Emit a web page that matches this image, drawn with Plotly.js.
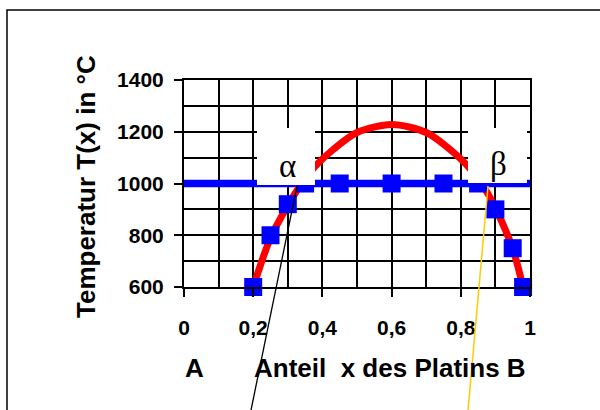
<!DOCTYPE html>
<html>
<head>
<meta charset="utf-8">
<script src="https://cdn.plot.ly/plotly-3.0.1.min.js"></script>
<style>html,body{margin:0;padding:0;background:#fff;}#chart{width:600px;height:410px;}</style>
</head>
<body>
<div id="chart"></div>
<script>
// Liquidus / solidus style curve (red)
const curveX = [0.2, 0.25, 0.3, 0.34, 0.38, 0.43, 0.5, 0.6, 0.7, 0.8, 0.86, 0.9, 0.95, 0.98];
const curveT = [600, 790, 915, 1000, 1068, 1130, 1197, 1228, 1197, 1095, 1000, 905, 748, 600];
// horizontal isotherm (blue line)
const lineX = [-0.01, 1.01];
const lineT = [1000, 1000];
// measured points (blue squares)
const pointX = [0.2, 0.25, 0.3, 0.35, 0.45, 0.6, 0.75, 0.85, 0.9, 0.95, 0.98];
const pointT = [600, 800, 920, 1000, 1000, 1000, 1000, 1000, 900, 750, 600];
// texts
const yTitle = 'Temperatur T(x) in °C';
const xLabelA = 'A';
const xTitle = 'Anteil\u00a0 x des Platins B';
const phaseA = 'α';
const phaseB = 'β';

const F = 'Liberation Sans, Arial, Helvetica, sans-serif';
const S = 'Liberation Serif, Times New Roman, serif';

const traces = [
  {x: lineX, y: lineT, mode: 'lines', line: {color: '#0000FF', width: 7.5}, cliponaxis: false, hoverinfo: 'skip'},
  {x: curveX, y: curveT, mode: 'lines', line: {color: '#FF0000', width: 7, shape: 'spline', smoothing: 0.8}, cliponaxis: false},
  {x: pointX, y: pointT, mode: 'markers', marker: {symbol: 'square', size: 18, color: '#0000FF'}, cliponaxis: false}
];

const px = v => (v - 184) / 346;
const py = v => (287 - v) / 207;

const layout = {
  width: 600, height: 410,
  margin: {l: 184, r: 70, t: 80, b: 123},
  paper_bgcolor: '#fff', plot_bgcolor: '#fff',
  showlegend: false,
  separators: ',.',
  xaxis: {
    range: [0, 1], dtick: 0.2, tick0: 0,
    showgrid: true, gridcolor: '#000', gridwidth: 2,
    minor: {dtick: 0.1, showgrid: true, gridcolor: '#000', gridwidth: 2},
    showline: true, linecolor: '#000', linewidth: 2, mirror: true,
    zeroline: false,
    ticks: 'outside', ticklen: 8, tickwidth: 2, tickcolor: '#000',
    ticklabelstandoff: 13,
    tickfont: {family: F, size: 21, color: '#000', weight: 'bold'}
  },
  yaxis: {
    range: [600, 1400], dtick: 200, tick0: 600,
    showgrid: true, gridcolor: '#000', gridwidth: 2,
    minor: {dtick: 100, showgrid: true, gridcolor: '#000', gridwidth: 2},
    showline: true, linecolor: '#000', linewidth: 2, mirror: true,
    zeroline: false,
    ticks: 'outside', ticklen: 8, tickwidth: 2, tickcolor: '#000',
    ticklabelstandoff: 6,
    tickfont: {family: F, size: 21, color: '#000', weight: 'bold'}
  },
  shapes: [
    {type: 'rect', xref: 'paper', yref: 'paper', x0: px(7), x1: px(620), y0: py(10), y1: py(430),
     line: {color: '#000', width: 1.5}, fillcolor: 'rgba(0,0,0,0)', layer: 'below'},
    {type: 'rect', xref: 'paper', yref: 'paper', x0: px(257), x1: px(315), y0: py(185), y1: py(128),
     line: {width: 0}, fillcolor: '#fff', layer: 'above'},
    {type: 'rect', xref: 'paper', yref: 'paper', x0: px(468), x1: px(527), y0: py(183), y1: py(128),
     line: {width: 0}, fillcolor: '#fff', layer: 'above'},
    {type: 'line', xref: 'paper', yref: 'paper', x0: px(297), y0: py(186), x1: px(250), y1: py(415),
     line: {color: '#000', width: 1.3}, layer: 'above'},
    {type: 'line', xref: 'paper', yref: 'paper', x0: px(488), y0: py(186), x1: px(467.6), y1: py(415),
     line: {color: '#FFCC00', width: 1.5}, layer: 'above'}
  ],
  annotations: [
    {text: phaseA, xref: 'paper', yref: 'paper', x: px(287.5), y: py(166), showarrow: false,
     xanchor: 'center', yanchor: 'middle', font: {family: S, size: 33, color: '#000'}},
    {text: phaseB, xref: 'paper', yref: 'paper', x: px(498), y: py(164), showarrow: false,
     xanchor: 'center', yanchor: 'middle', font: {family: S, size: 33, color: '#000'}},
    {text: xLabelA, xref: 'paper', yref: 'paper', x: px(194), y: py(367.5), showarrow: false,
     xanchor: 'center', yanchor: 'middle', font: {family: F, size: 26, color: '#000', weight: 'bold'}},
    {text: xTitle, xref: 'paper', yref: 'paper', x: px(390), y: py(367.5), showarrow: false,
     xanchor: 'center', yanchor: 'middle', font: {family: F, size: 26, color: '#000', weight: 'bold'}},
    {text: yTitle, xref: 'paper', yref: 'paper', x: px(86), y: py(186), showarrow: false, textangle: -90,
     xanchor: 'center', yanchor: 'middle', font: {family: F, size: 26, color: '#000', weight: 'bold'}}
  ]
};

Plotly.newPlot('chart', traces, layout, {displayModeBar: false, staticPlot: true});
</script>
</body>
</html>
